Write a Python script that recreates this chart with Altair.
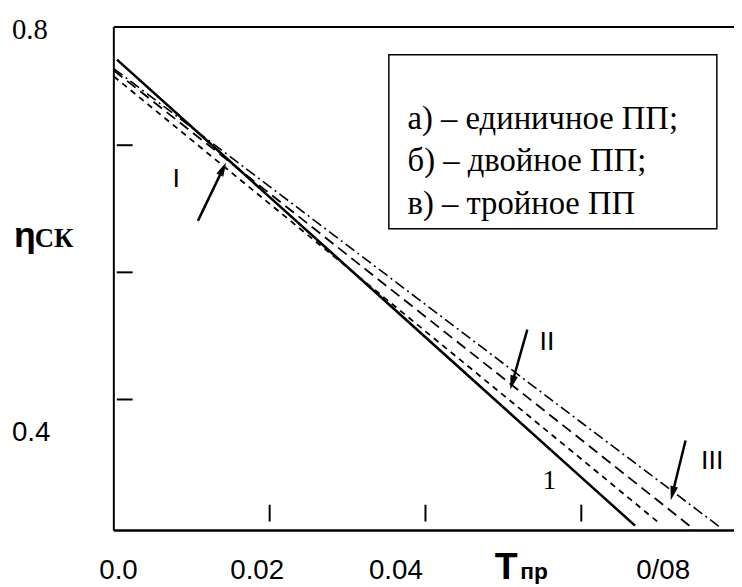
import altair as alt
import pandas as pd

# ---------------- data ----------------
X_DOMAIN = [0.0, 0.0796]
Y_DOMAIN = [0.397, 0.793]

curve1_x = [0.0004, 0.02, 0.04, 0.06, 0.0669]          # solid "1"
curve1_y = [0.7673, 0.6592, 0.5490, 0.4387, 0.4008]
single_x = [0.0, 0.02, 0.04, 0.06, 0.0701]             # I  (short dash)
single_y = [0.7541, 0.6539, 0.5536, 0.4532, 0.4023]
double_x = [0.0, 0.02, 0.04, 0.06, 0.0745]             # II (long dash)
double_y = [0.7588, 0.6620, 0.5651, 0.4683, 0.3977]
triple_x = [0.0, 0.02, 0.04, 0.06, 0.0778]             # III (dash-dot)
triple_y = [0.7603, 0.6675, 0.5747, 0.4819, 0.3996]

x_tick_values = [0.02, 0.04, 0.06]
y_tick_values = [0.7, 0.6, 0.5]

x_label_text = ["0.0", "0.02", "0.04", "0/08"]
x_label_pos = [0.0006, 0.0184, 0.0362, 0.0705]
y_label_serif_text = ["0.8"]
y_label_serif_pos = [0.7903]
y_label_sans_text = ["0.4"]
y_label_sans_pos = [0.4736]

arrow_names = ["I", "II", "III"]
arrow_x0 = [0.01079, 0.05307, 0.07338]
arrow_y0 = [0.6405, 0.5549, 0.4678]
arrow_x1 = [0.01397, 0.05116, 0.07173]
arrow_y1 = [0.6810, 0.5137, 0.4266]
arrow_angle = [26, 196, 194]

roman_text = ["I", "II", "III"]
roman_x = [0.0080, 0.0556, 0.0768]
roman_y = [0.6732, 0.5448, 0.4515]

one_text = ["1"]
one_x = [0.0559]
one_y = [0.4359]

legend_lines = ["а) – единичное ПП;", "б) – двойное ПП;", "в) – тройное ПП"]
legend_line_y = [0.7206, 0.6872, 0.6537]
legend_text_x = 0.0377
legend_box = {"x": 0.0353, "x2": 0.0774, "y": 0.7712, "y2": 0.6343}

W, H = 627, 509
SERIF = "Liberation Serif, Times New Roman, DejaVu Serif, serif"
SANS = "Liberation Sans, Arial, DejaVu Sans, sans-serif"

xs = alt.Scale(domain=X_DOMAIN, nice=False, zero=False)
ys = alt.Scale(domain=Y_DOMAIN, nice=False, zero=False)


def X(field="x"):
    return alt.X(field, type="quantitative", scale=xs, axis=None)


def Y(field="y"):
    return alt.Y(field, type="quantitative", scale=ys, axis=None)


def curve(xv, yv, dash, width):
    df = pd.DataFrame({"x": xv, "y": yv})
    kw = dict(color="black", strokeWidth=width, strokeCap="butt")
    if dash:
        kw["strokeDash"] = dash
    return alt.Chart(df).mark_line(**kw).encode(x=X(), y=Y())


one_row = pd.DataFrame({"a": [0]})

top_border = alt.Chart(one_row).mark_rule(color="black", strokeWidth=2).encode(
    x=alt.value(0), x2=alt.value(W), y=alt.value(0))
left_border = alt.Chart(one_row).mark_rule(color="black", strokeWidth=2).encode(
    x=alt.value(0), y=alt.value(0), y2=alt.value(H))
bottom_border = alt.Chart(one_row).mark_rule(color="black", strokeWidth=2.5).encode(
    x=alt.value(0), x2=alt.value(W), y=alt.value(H))

l_single = curve(single_x, single_y, [6, 5], 1.8)
l_double = curve(double_x, double_y, [11, 6], 1.8)
l_triple = curve(triple_x, triple_y, [11, 4, 2, 4], 1.6)
l_one = curve(curve1_x, curve1_y, None, 2.6)

xt = alt.Chart(pd.DataFrame({"x": x_tick_values})).mark_rule(color="black", strokeWidth=2).encode(
    x=X(), y=alt.value(483), y2=alt.value(500))
yt = alt.Chart(pd.DataFrame({"y": y_tick_values})).mark_rule(color="black", strokeWidth=2).encode(
    y=Y(), x=alt.value(3), x2=alt.value(19))

xl = alt.Chart(pd.DataFrame({"x": x_label_pos, "t": x_label_text})).mark_text(
    font=SANS, fontSize=28, baseline="alphabetic", align="center", color="black"
).encode(x=X(), y=alt.value(558), text="t:N")

yl1 = alt.Chart(pd.DataFrame({"y": y_label_serif_pos, "t": y_label_serif_text})).mark_text(
    font=SERIF, fontSize=29, baseline="middle", align="left", color="black"
).encode(y=Y(), x=alt.value(-103), text="t:N")
yl2 = alt.Chart(pd.DataFrame({"y": y_label_sans_pos, "t": y_label_sans_text})).mark_text(
    font=SANS, fontSize=28, baseline="middle", align="left", color="black"
).encode(y=Y(), x=alt.value(-103), text="t:N")

eta = alt.Chart(one_row).mark_text(
    font=SANS, fontSize=36, fontWeight="bold", baseline="alphabetic", align="left",
    color="black", text="η").encode(x=alt.value(-101), y=alt.value(222))
ck = alt.Chart(one_row).mark_text(
    font=SERIF, fontSize=27, fontWeight="bold", baseline="alphabetic", align="left",
    color="black", text="СК").encode(x=alt.value(-80), y=alt.value(222))

t_big = alt.Chart(one_row).mark_text(
    font=SANS, fontSize=38, fontWeight="bold", baseline="alphabetic", align="left",
    color="black", text="Т").encode(x=alt.value(385), y=alt.value(558))
t_sub = alt.Chart(one_row).mark_text(
    font=SANS, fontSize=23, fontWeight="bold", baseline="alphabetic", align="left",
    color="black", text="пр").encode(x=alt.value(411), y=alt.value(558))

arr_df = pd.DataFrame({"n": arrow_names, "x": arrow_x0, "y": arrow_y0,
                       "x2": arrow_x1, "y2": arrow_y1, "ang": arrow_angle})
shafts = alt.Chart(arr_df).mark_rule(color="black", strokeWidth=2.5).encode(
    x=X("x"), y=Y("y"), x2="x2:Q", y2="y2:Q")
heads = alt.Chart(arr_df).mark_point(shape="M-0.6,1L0,-1.2L0.6,1Z", filled=True, color="black",
                                     size=170, opacity=1).encode(
    x=X("x2"), y=Y("y2"), angle=alt.Angle("ang:Q", scale=None))

roman = alt.Chart(pd.DataFrame({"x": roman_x, "y": roman_y, "t": roman_text})).mark_text(
    font=SANS, fontSize=27, baseline="middle", align="center", color="black"
).encode(x=X(), y=Y(), text="t:N")
one = alt.Chart(pd.DataFrame({"x": one_x, "y": one_y, "t": one_text})).mark_text(
    font=SERIF, fontSize=27, baseline="middle", align="center", color="black"
).encode(x=X(), y=Y(), text="t:N")

box = alt.Chart(pd.DataFrame([legend_box])).mark_rect(
    fill="white", stroke="black", strokeWidth=1.5).encode(
    x=X("x"), x2="x2:Q", y=Y("y"), y2="y2:Q")
leg = alt.Chart(pd.DataFrame({"y": legend_line_y, "t": legend_lines,
                              "x": [legend_text_x] * len(legend_lines)})).mark_text(
    font=SERIF, fontSize=33, baseline="middle", align="left", color="black"
).encode(x=X(), y=Y(), text="t:N")

chart = alt.layer(
    top_border, left_border, xt, yt,
    l_triple, l_double, l_single, l_one, bottom_border,
    shafts, heads, roman, one, box, leg,
    xl, yl1, yl2, eta, ck, t_big, t_sub,
).properties(
    width=W, height=H,
    autosize=alt.AutoSizeParams(type="none"),
    padding={"left": 107, "top": 16, "right": 0, "bottom": 54},
    background="white",
).configure_view(stroke=None)

chart.save("out.html", embed_options={"renderer": "svg", "actions": False})
